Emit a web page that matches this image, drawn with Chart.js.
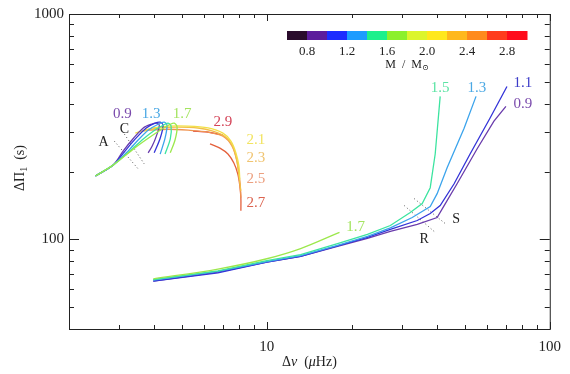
<!DOCTYPE html>
<html><head><meta charset="utf-8">
<script src="https://cdn.jsdelivr.net/npm/chart.js@4.4.0/dist/chart.umd.min.js"></script>
<style>html,body{margin:0;padding:0;background:#fff}#wrap{width:570px;height:374px}</style>
</head><body><div id="wrap"><canvas id="c" width="570" height="374"></canvas></div>
<script>
// ---------- axis ticks ----------
const xTickValues = [2,3,4,5,6,7,8,9,10,20,30,40,50,60,70,80,90,100];
const xTickLabels = [10,100];
const yTickValues = [40,50,60,70,80,90,100,200,300,400,500,600,700,800,900,1000];
const yTickLabels = [100,1000];

// ---------- RGB tracks (lower bundle) ----------
const rgb09_x = [3.97,6.72,10.0,13.17,17.78,22.68,27.33,34.02,40.0,42.34,47.04,55.33,63.5,70.0];
const rgb09_y = [65.3,71.5,79.2,84.1,93.1,101.0,108.4,116.4,125.0,141.2,176.5,251.7,334.4,389.4];
const rgb11_x = [3.97,6.72,10.0,13.17,17.78,22.68,27.33,34.02,37.81,41.0,45.92,52.29,61.47,70.6];
const rgb11_y = [65.3,71.0,79.2,84.1,93.6,102.0,110.7,121.2,130.2,141.2,176.5,239.2,344.7,476.9];
const rgb13_x = [3.97,6.72,10.0,13.17,17.78,22.68,27.33,32.66,37.81,40.0,43.38,49.81,54.89];
const rgb13_y = [66.0,72.0,79.6,84.6,94.1,103.1,112.4,125.0,139.8,159.5,207.6,311.5,430.9];
const rgb15_x = [3.97,6.72,10.0,13.17,17.78,22.68,27.33,32.14,35.43,37.81,39.37,41.0];
const rgb15_y = [66.3,72.5,80.4,85.5,95.6,105.2,115.2,131.5,144.1,169.5,239.2,430.9];
const rgb17_x = [3.97,6.72,10.0,13.17,18.07];
const rgb17_y = [66.8,73.8,82.0,91.0,107.4];

// ---------- clump tracks (upper left) ----------
const clump09_x = [2.48,2.87,3.11,3.38,3.66,3.90,4.07,4.17,4.07,3.94,3.81];
const clump09_y = [191,214,247,281,312,324,328,321,287,260,242];
const clump11_x = [2.48,2.87,3.16,3.43,3.75,4.03,4.20,4.30,4.20,4.00];
const clump11_y = [191,214,247,279,312,328,331,321,281,242];
const clump13_x = [2.48,2.87,3.24,3.51,3.81,4.13,4.34,4.44,4.37,4.20];
const clump13_y = [191,214,247,276,305,324,331,321,281,239];
const clump15_x = [2.48,2.87,3.29,3.66,3.97,4.30,4.48,4.59,4.56,4.37];
const clump15_y = [191,214,247,279,302,321,328,318,279,239];
const clump17_x = [2.48,2.87,3.38,3.81,4.20,4.56,4.71,4.82,4.74,4.56];
const clump17_y = [191,214,252,281,305,324,328,315,276,242];
const clump21_x = [3.43,3.97,4.48,5.27,6.20,7.00,7.47,7.78,7.97,8.03];
const clump21_y = [296,312,318,318,312,296,273,242,212,184];
const clump23_x = [3.66,4.13,4.86,5.71,6.45,7.17,7.59,7.84,7.97,8.10];
const clump23_y = [302,312,315,312,302,284,257,223,191,164];
const clump25_x = [3.81,4.48,5.27,6.20,7.00,7.53,7.84,8.03,8.10];
const clump25_y = [305,308,305,299,287,260,223,182,153];
const clump27_x = [6.30,6.83,7.29,7.65,7.90,8.03,8.10,8.10];
const clump27_y = [265,254,239,218,195,173,152,134];
const clump29_x = [5.49,6.20,7.00];
const clump29_y = [302,299,290];

// ---------- dotted marker lines ----------
const dotA_x = [2.89,3.51];  const dotA_y = [273,205.5];
const dotC_x = [3.14,3.69];  const dotC_y = [293,216];
const dotR_x = [30.61,39.37]; const dotR_y = [141.2,107.4];
const dotS_x = [33.19,42.68]; const dotS_y = [151.6,117.6];

// ---------- colour bar ----------
const cbarMin = 0.6, cbarMax = 3.0;
const cbarColors = ['#2a0c2c','#5c1c9c','#1c2cff','#1c9cff','#1cf08c','#8cf02c','#dcf52c','#ffe81c','#ffb81c','#ff8a1c','#ff3c1c','#ff0c1c'];
const cbarTicks = [0.8,1.2,1.6,2.0,2.4,2.8];

// ---------- mass colours ----------
const massColor = {'0.9':'#6a3cac','1.1':'#3434d8','1.3':'#3ca4ec','1.5':'#3ce4a0','1.7':'#9ce84c',
  '2.1':'#f2e048','2.3':'#f2c048','2.5':'#f09450','2.7':'#e4603c','2.9':'#d42c3c'};
const labelColor = {'0.9':'#7a4aac','1.1':'#3c3cc8','1.3':'#4aa8e4','1.5':'#5ce4a4','1.7':'#a4e460',
  '2.1':'#f2e460','2.3':'#f0c470','2.5':'#eca080','2.7':'#dc6450','2.9':'#d44458'};

// annotation labels: [text, x, y, colourKey]
const annotations = [
  ['0.9',3.09,359,'0.9'],['1.3',3.90,359,'1.3'],['1.7',5.02,359,'1.7'],['2.9',7.00,331,'2.9'],
  ['2.1',9.15,276,'2.1'],['2.3',9.15,230,'2.3'],['2.5',9.15,186,'2.5'],['2.7',9.15,145.5,'2.7'],
  ['1.7',20.6,113,'1.7'],['1.5',41.0,467,'1.5'],['1.3',55.3,467,'1.3'],['1.1',80.3,492,'1.1'],['0.9',80.3,397,'0.9'],
  ['A',2.65,270,null],['C',3.14,308,null],['R',36.0,100,null],['S',46.7,122.5,null]
];

function pts(xs, ys){ return xs.map((v,i)=>({x:v, y:ys[i]})); }
function track(xs, ys, m, order, tension, mono){
  const d = {data:pts(xs,ys), borderColor:massColor[m], borderWidth:1.3, pointRadius:0, fill:false,
    tension:tension, order:order, showLine:true};
  if (mono) d.cubicInterpolationMode = 'monotone';
  return d;
}
function dotted(xs, ys){
  return {data:pts(xs,ys), borderColor:'#555', borderWidth:1, borderDash:[1,2.5], pointRadius:0, fill:false, order:100, showLine:true};
}

const datasets = [
  dotted(dotA_x,dotA_y), dotted(dotC_x,dotC_y), dotted(dotR_x,dotR_y), dotted(dotS_x,dotS_y),
  track(rgb09_x,rgb09_y,'0.9',20,0), track(rgb11_x,rgb11_y,'1.1',19,0), track(rgb13_x,rgb13_y,'1.3',18,0),
  track(rgb15_x,rgb15_y,'1.5',17,0), track(rgb17_x,rgb17_y,'1.7',16,0.4,true),
  track(clump29_x,clump29_y,'2.9',15,0.3), track(clump27_x,clump27_y,'2.7',14,0.3), track(clump25_x,clump25_y,'2.5',13,0.3),
  track(clump23_x,clump23_y,'2.3',12,0.3), track(clump21_x,clump21_y,'2.1',11,0.3),
  track(clump09_x,clump09_y,'0.9',10,0.3), track(clump11_x,clump11_y,'1.1',9,0.3), track(clump13_x,clump13_y,'1.3',8,0.3),
  track(clump15_x,clump15_y,'1.5',7,0.3), track(clump17_x,clump17_y,'1.7',6,0.3)
];

const SERIF = '"Liberation Serif","DejaVu Serif",serif';

function drawRich(ctx, parts, cx, cy){
  let w = 0;
  parts.forEach(p=>{ ctx.font=(p[2]?'italic ':'')+p[1]+'px '+SERIF; w+=ctx.measureText(p[0]).width; });
  let x = cx - w/2;
  ctx.textAlign='left'; ctx.textBaseline='middle';
  parts.forEach(p=>{ ctx.font=(p[2]?'italic ':'')+p[1]+'px '+SERIF; ctx.fillText(p[0], x, cy+(p[3]||0)); x+=ctx.measureText(p[0]).width; });
}

const deco = {
  id:'deco',
  afterDraw(chart){
    const {ctx, chartArea:a, scales:{x, y}} = chart;
    ctx.save();
    ctx.strokeStyle='#222'; ctx.lineWidth=1;
    ctx.strokeRect(a.left+0.5, a.top+0.5, a.right-a.left, a.bottom-a.top);
    ctx.beginPath();
    xTickValues.forEach(v=>{
      const px = Math.round(x.getPixelForValue(v))+0.5;
      const L = xTickLabels.includes(v)?7:4;
      ctx.moveTo(px,a.bottom); ctx.lineTo(px,a.bottom-L);
      ctx.moveTo(px,a.top); ctx.lineTo(px,a.top+L);
    });
    yTickValues.forEach(v=>{
      const py = Math.round(y.getPixelForValue(v))+0.5;
      const L = yTickLabels.includes(v)?10:5;
      ctx.moveTo(a.left,py); ctx.lineTo(a.left+L,py);
      ctx.moveTo(a.right,py); ctx.lineTo(a.right-L,py);
    });
    ctx.stroke();

    ctx.textAlign='center'; ctx.textBaseline='middle';
    annotations.forEach(an=>{
      ctx.font = (an[3]?'15px ':'14px ')+SERIF;
      ctx.fillStyle = an[3]?labelColor[an[3]]:'#222';
      ctx.fillText(an[0], x.getPixelForValue(an[1]), y.getPixelForValue(an[2]));
    });

    const cbL = a.left+218, cbW = 240, cbT = a.top+17, cbH = 9;
    const step = cbW/cbarColors.length;
    cbarColors.forEach((c,i)=>{ ctx.fillStyle=c; ctx.fillRect(cbL+i*step, cbT, step+0.5, cbH); });
    ctx.fillStyle='#222'; ctx.font='13px '+SERIF; ctx.textAlign='center'; ctx.textBaseline='middle';
    cbarTicks.forEach(v=>{
      const px = cbL + (v-cbarMin)/(cbarMax-cbarMin)*cbW;
      ctx.fillText(v.toFixed(1), px, cbT+21);
    });
    drawRich(ctx, [['M  /  M',12,false,0],['\u2299',8,false,3]], cbL+cbW/2, cbT+34);

    ctx.fillStyle='#222';
    drawRich(ctx, [['\u0394',14,false,0],['\u03BD',14,true,0],['  (',14,false,0],['\u03BC',14,true,0],['Hz)',14,false,0]], (a.left+a.right)/2, 362);
    ctx.save();
    ctx.translate(20, 168); ctx.rotate(-Math.PI/2);
    drawRich(ctx, [['\u0394\u03A0',14,false,0],['1',10,false,4],['  (s)',14,false,0]], 0, 0);
    ctx.restore();
    ctx.restore();
  }
};

Chart.defaults.font.family = SERIF;
Chart.defaults.color = '#222';

new Chart(document.getElementById('c'), {
  type:'line',
  data:{datasets},
  options:{
    responsive:false, animation:false, devicePixelRatio:1,
    layout:{padding:{top:12, right:17, left:0, bottom:0}},
    plugins:{legend:{display:false}, tooltip:{enabled:false}},
    scales:{
      x:{type:'logarithmic', min:2, max:100, position:'bottom',
        grid:{display:false, drawTicks:false}, border:{display:false},
        afterBuildTicks:s=>{ s.ticks = xTickValues.map(v=>({value:v})); },
        afterFit:s=>{ s.height = 45; },
        ticks:{autoSkip:false, maxRotation:0, padding:9, font:{size:15},
          callback:v=> xTickLabels.includes(v)? String(v):''}},
      y:{type:'logarithmic', min:40, max:1000,
        grid:{display:false, drawTicks:false}, border:{display:false},
        afterBuildTicks:s=>{ s.ticks = yTickValues.map(v=>({value:v})); },
        afterFit:s=>{ s.width = 69; },
        ticks:{autoSkip:false, padding:5, font:{size:15},
          callback:v=> yTickLabels.includes(v)? String(v):''}}
    }
  },
  plugins:[deco]
});
</script>
</body></html>
